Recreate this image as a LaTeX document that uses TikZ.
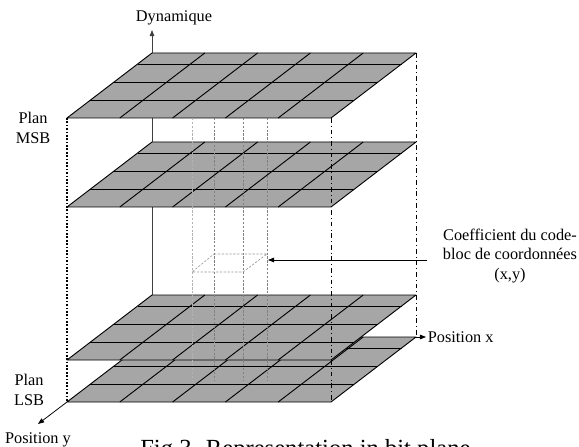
\documentclass[tikz,border=0pt]{standalone}
\usepackage{fontspec}
\setmainfont{Liberation Serif}
\usetikzlibrary{arrows.meta}
\definecolor{planegray}{RGB}{166,166,166}

\begin{document}
\begin{tikzpicture}[x=0.65pt,y=-0.65pt]
  \tikzset{PlaneStyle/.style = {
    draw          = black,
    fill          = planegray,
    line width    = 0.6pt,
    line join     = round
    }
  }
  \tikzset{GridStyle/.style = {
    draw          = black,
    line width    = 0.6pt
    }
  }
  \tikzset{LabelStyle/.style = {
    font          = \fontsize{10.6}{12.8}\selectfont,
    align         = center,
    inner sep     = 1pt
    }
  }
  \tikzset{ArrowStyle/.style = {
    draw          = black,
    line width    = 0.5pt,
    -{Triangle[length=4pt,width=3pt]}
    }
  }
  \tikzset{ProjStyle/.style = {
    draw          = gray,
    line width    = 0.4pt,
    dash pattern  = on 1.5pt off 1pt
    }
  }
  \useasboundingbox (0,0) rectangle (579,447);

  % axis behind the planes
  \coordinate (axisfoot) at (152,295);
  \coordinate (axistop) at (152,30);
  \draw[ArrowStyle, draw=black!75] (axisfoot) -- (axistop);

  % plan LSB
  \begin{scope}[shift={(152,337)}]
    \path[PlaneStyle] (0,0) -- (264,0) -- (179,65) -- (-85,65) -- cycle;
    \draw[GridStyle] (-14.5,11) -- (249.5,11);
    \draw[GridStyle] (-38.3,29.3) -- (225.7,29.3);
    \draw[GridStyle] (-62,47.5) -- (202,47.5);
    \draw[GridStyle] (52.8,0) -- (-32.2,65);
    \draw[GridStyle] (105.6,0) -- (20.6,65);
    \draw[GridStyle] (158.4,0) -- (73.4,65);
    \draw[GridStyle] (211.2,0) -- (126.2,65);
  \end{scope}
  % plane 3
  \begin{scope}[shift={(152,295)}]
    \path[PlaneStyle] (0,0) -- (264,0) -- (179,65) -- (-85,65) -- cycle;
    \draw[GridStyle] (-14.5,11) -- (249.5,11);
    \draw[GridStyle] (-38.3,29.3) -- (225.7,29.3);
    \draw[GridStyle] (-62,47.5) -- (202,47.5);
    \draw[GridStyle] (52.8,0) -- (-32.2,65);
    \draw[GridStyle] (105.6,0) -- (20.6,65);
    \draw[GridStyle] (158.4,0) -- (73.4,65);
    \draw[GridStyle] (211.2,0) -- (126.2,65);
  \end{scope}
  % plane 2
  \begin{scope}[shift={(152,142)}]
    \path[PlaneStyle] (0,0) -- (264,0) -- (179,65) -- (-85,65) -- cycle;
    \draw[GridStyle] (-14.5,11) -- (249.5,11);
    \draw[GridStyle] (-38.3,29.3) -- (225.7,29.3);
    \draw[GridStyle] (-62,47.5) -- (202,47.5);
    \draw[GridStyle] (52.8,0) -- (-32.2,65);
    \draw[GridStyle] (105.6,0) -- (20.6,65);
    \draw[GridStyle] (158.4,0) -- (73.4,65);
    \draw[GridStyle] (211.2,0) -- (126.2,65);
  \end{scope}
  % plan MSB
  \begin{scope}[shift={(152,53)}]
    \path[PlaneStyle] (0,0) -- (264,0) -- (179,65) -- (-85,65) -- cycle;
    \draw[GridStyle] (-14.5,11) -- (249.5,11);
    \draw[GridStyle] (-38.3,29.3) -- (225.7,29.3);
    \draw[GridStyle] (-62,47.5) -- (202,47.5);
    \draw[GridStyle] (52.8,0) -- (-32.2,65);
    \draw[GridStyle] (105.6,0) -- (20.6,65);
    \draw[GridStyle] (158.4,0) -- (73.4,65);
    \draw[GridStyle] (211.2,0) -- (126.2,65);
  \end{scope}

  % corners
  \coordinate (msbfl) at (67,118);
  \coordinate (msbfr) at (331,118);
  \coordinate (msbbr) at (416,53);
  \coordinate (lsbfl) at (67,402);
  \coordinate (lsbfr) at (331,402);
  \coordinate (lsbbr) at (416,337);
  \draw[black, line width=1.1pt, dash pattern=on 1.1pt off 1.1pt] (msbfl) -- (lsbfl);
  \draw[black, line width=0.5pt, dash dot] (msbfr) -- (lsbfr);
  \draw[black, line width=0.5pt, dash dot] (msbbr) -- (lsbbr);

  % projection of the coefficient
  \coordinate (cellbl) at (214,254);
  \coordinate (cellbr) at (267,254);
  \coordinate (cellfr) at (243,272);
  \coordinate (cellfl) at (192,272);
  \draw[ProjStyle, draw=gray!60] (192,118) -- (192,380);
  \draw[ProjStyle] (214,118) -- (214,380);
  \draw[ProjStyle] (243,118) -- (243,380);
  \draw[ProjStyle] (267,118) -- (267,380);
  \draw[ProjStyle, draw=gray!80] (cellbl) -- (cellbr) -- (cellfr) -- (cellfl) -- cycle;

  % labels
  \node[LabelStyle](dyn) at (174,18) {Dynamique};
  \node[LabelStyle](msb) at (33,128) {Plan\\MSB};
  \node[LabelStyle](lsb) at (29,390) {Plan\\LSB};
  \node[LabelStyle](posy) at (38,440) {Position y};
  \node[LabelStyle, anchor=west](posx) at (426,337) {Position x};
  \node[LabelStyle](coef) at (510,256) {Coefficient du code-\\bloc de coordonnées\\(x,y)};
  \node[anchor=base west, inner sep=0pt, font=\fontsize{16}{19}\selectfont](caption) at (140,456) {Fig 3. Representation in bit plane};

  % arrows
  \coordinate (coeftail) at (427,260);
  \coordinate (cellpoint) at (268,260);
  \coordinate (posytip) at (38,424);
  \draw[ArrowStyle] (coeftail) -- (cellpoint);
  \draw[ArrowStyle] (lsbbr) -- (posx.west);
  \draw[ArrowStyle] (lsbfl) -- (posytip);
\end{tikzpicture}
\end{document}
